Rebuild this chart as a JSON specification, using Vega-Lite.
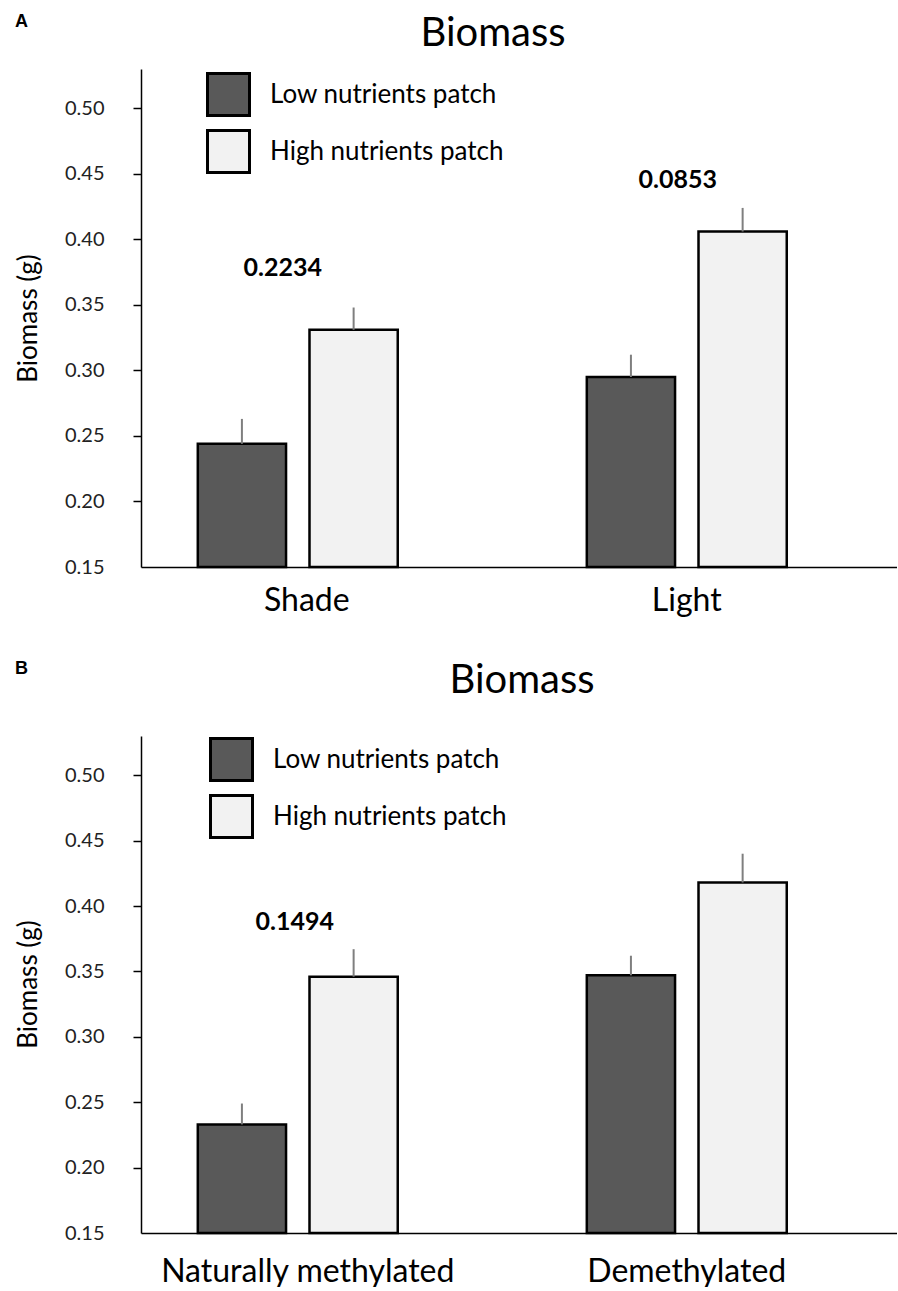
{
  "$schema": "https://vega.github.io/schema/vega-lite/v6.json",
  "background": "white",
  "padding": {"left": 15, "top": 13, "right": 0, "bottom": 0},
  "autosize": {"type": "pad"},
  "config": {"view": {"stroke": null}, "font": "Lato"},
  "spacing": 44,
  "resolve": {"scale": {"fill": "independent", "x": "independent", "y": "independent"}, "legend": {"fill": "independent"}},
  "vconcat": [
    {
      "title": {"text": "A", "anchor": "start", "frame": "bounds", "offset": -17, "font": "Liberation Sans", "fontWeight": "bold", "fontSize": 18, "color": "black"},
      "vconcat": [
        {
          "width": 756,
          "height": 498,
          "title": {"text": "Biomass", "font": "Lato", "fontSize": 40, "fontWeight": "normal", "color": "black", "dx": -26, "offset": 15},
          "data": {"values": [
            {"group": "Shade", "patch": "Low nutrients patch", "biomass": 0.244, "upper": 0.263},
            {"group": "Shade", "patch": "High nutrients patch", "biomass": 0.331, "upper": 0.348},
            {"group": "Light", "patch": "Low nutrients patch", "biomass": 0.295, "upper": 0.312},
            {"group": "Light", "patch": "High nutrients patch", "biomass": 0.406, "upper": 0.424}
          ]},
          "layer": [
            {
              "mark": {"type": "bar", "stroke": "black", "strokeWidth": 2.5},
              "encoding": {
                "x": {"field": "group", "type": "nominal", "title": null,
                  "scale": {"domain": ["Shade", "Light"], "paddingInner": 0.486, "paddingOuter": 0.2147, "align": 0.34},
                  "axis": {"domainColor": "black", "domainWidth": 1.5, "ticks": false, "labelFontSize": 32, "labelFont": "Lato", "labelColor": "black", "labelPadding": 18, "labelAngle": 0, "labelLimit": 0,
                    "labelOffset": {"condition": {"test": "datum.value === 'Shade'", "value": 9}, "value": 0}}},
                "xOffset": {"field": "patch", "type": "nominal", "scale": {"domain": ["Low nutrients patch", "High nutrients patch"], "paddingInner": 0.21, "paddingOuter": 0}},
                "y": {"field": "biomass", "type": "quantitative", "title": "Biomass (g)",
                  "scale": {"domain": [0.15, 0.53], "zero": false, "nice": false},
                  "axis": {"values": [0.15, 0.2, 0.25, 0.3, 0.35, 0.4, 0.45, 0.5], "format": ".2f", "grid": false,
                    "domainColor": "black", "domainWidth": 1.5,
                    "tickColor": {"condition": {"test": "datum.value < 0.16", "value": "transparent"}, "value": "black"},
                    "tickSize": 8, "tickWidth": 1.5,
                    "labelFontSize": 20, "labelFont": "Lato", "labelColor": "#222222", "labelPadding": 29,
                    "titleFont": "Lato", "titleFontSize": 26, "titleFontWeight": "normal", "titleColor": "black",
                    "titleAngle": -90, "titleX": -113, "titleY": 249, "titleBaseline": "middle", "titleAlign": "center"}},
                "y2": {"datum": 0.15},
                "fill": {"field": "patch", "type": "nominal",
                  "scale": {"domain": ["Low nutrients patch", "High nutrients patch"], "range": ["#595959", "#f2f2f2"]},
                  "legend": {"title": null, "orient": "none", "legendX": 65, "legendY": 3, "padding": 0,
                    "symbolType": "square", "symbolSize": 1764, "symbolStrokeColor": "black", "symbolStrokeWidth": 3,
                    "labelFont": "Lato", "labelFontSize": 26, "labelColor": "black", "labelOffset": 19, "labelLimit": 0, "rowPadding": 2}}
              }
            },
            {
              "mark": {"type": "rule", "color": "#7f7f7f", "strokeWidth": 2},
              "encoding": {
                "x": {"field": "group", "type": "nominal"},
                "xOffset": {"field": "patch", "type": "nominal"},
                "y": {"field": "biomass", "type": "quantitative"},
                "y2": {"field": "upper"}
              }
            },
            {
              "data": {"values": [
                {"group": "Shade", "label": "0.2234", "ypos": 0.378}
              ]},
              "mark": {"type": "text", "font": "Lato", "fontWeight": "bold", "fontSize": 25, "color": "black", "dx": -15, "baseline": "middle"},
              "encoding": {
                "x": {"field": "group", "type": "nominal"},
                "y": {"field": "ypos", "type": "quantitative"},
                "text": {"field": "label"}
              }
            },
            {
              "data": {"values": [
                {"group": "Light", "label": "0.0853", "ypos": 0.445}
              ]},
              "mark": {"type": "text", "font": "Lato", "fontWeight": "bold", "fontSize": 25, "color": "black", "dx": -9, "baseline": "middle"},
              "encoding": {
                "x": {"field": "group", "type": "nominal"},
                "y": {"field": "ypos", "type": "quantitative"},
                "text": {"field": "label"}
              }
            }
          ]
        }
      ]
    },
    {
      "title": {"text": "B", "anchor": "start", "frame": "bounds", "offset": -17, "font": "Liberation Sans", "fontWeight": "bold", "fontSize": 18, "color": "black"},
      "vconcat": [
        {
          "width": 756,
          "height": 497,
          "title": {"text": "Biomass", "font": "Lato", "fontSize": 40, "fontWeight": "normal", "color": "black", "dx": 3, "offset": 35},
          "data": {"values": [
            {"group": "Naturally methylated", "patch": "Low nutrients patch", "biomass": 0.233, "upper": 0.249},
            {"group": "Naturally methylated", "patch": "High nutrients patch", "biomass": 0.346, "upper": 0.367},
            {"group": "Demethylated", "patch": "Low nutrients patch", "biomass": 0.347, "upper": 0.362},
            {"group": "Demethylated", "patch": "High nutrients patch", "biomass": 0.418, "upper": 0.44}
          ]},
          "layer": [
            {
              "mark": {"type": "bar", "stroke": "black", "strokeWidth": 2.5},
              "encoding": {
                "x": {"field": "group", "type": "nominal", "title": null,
                  "scale": {"domain": ["Naturally methylated", "Demethylated"], "paddingInner": 0.486, "paddingOuter": 0.2147, "align": 0.34},
                  "axis": {"domainColor": "black", "domainWidth": 1.5, "ticks": false, "labelFontSize": 32, "labelFont": "Lato", "labelColor": "black", "labelPadding": 23, "labelAngle": 0, "labelLimit": 0,
                    "labelOffset": {"condition": {"test": "datum.value === 'Naturally methylated'", "value": 10}, "value": 0}}},
                "xOffset": {"field": "patch", "type": "nominal", "scale": {"domain": ["Low nutrients patch", "High nutrients patch"], "paddingInner": 0.21, "paddingOuter": 0}},
                "y": {"field": "biomass", "type": "quantitative", "title": "Biomass (g)",
                  "scale": {"domain": [0.15, 0.53], "zero": false, "nice": false},
                  "axis": {"values": [0.15, 0.2, 0.25, 0.3, 0.35, 0.4, 0.45, 0.5], "format": ".2f", "grid": false,
                    "domainColor": "black", "domainWidth": 1.5,
                    "tickColor": {"condition": {"test": "datum.value < 0.16", "value": "transparent"}, "value": "black"},
                    "tickSize": 8, "tickWidth": 1.5,
                    "labelFontSize": 20, "labelFont": "Lato", "labelColor": "#222222", "labelPadding": 29,
                    "titleFont": "Lato", "titleFontSize": 26, "titleFontWeight": "normal", "titleColor": "black",
                    "titleAngle": -90, "titleX": -113, "titleY": 248, "titleBaseline": "middle", "titleAlign": "center"}},
                "y2": {"datum": 0.15},
                "fill": {"field": "patch", "type": "nominal",
                  "scale": {"domain": ["Low nutrients patch", "High nutrients patch"], "range": ["#595959", "#f2f2f2"]},
                  "legend": {"title": null, "orient": "none", "legendX": 68, "legendY": 1, "padding": 0,
                    "symbolType": "square", "symbolSize": 1764, "symbolStrokeColor": "black", "symbolStrokeWidth": 3,
                    "labelFont": "Lato", "labelFontSize": 26, "labelColor": "black", "labelOffset": 19, "labelLimit": 0, "rowPadding": 2}}
              }
            },
            {
              "mark": {"type": "rule", "color": "#7f7f7f", "strokeWidth": 2},
              "encoding": {
                "x": {"field": "group", "type": "nominal"},
                "xOffset": {"field": "patch", "type": "nominal"},
                "y": {"field": "biomass", "type": "quantitative"},
                "y2": {"field": "upper"}
              }
            },
            {
              "data": {"values": [
                {"group": "Naturally methylated", "label": "0.1494", "ypos": 0.388}
              ]},
              "mark": {"type": "text", "font": "Lato", "fontWeight": "bold", "fontSize": 25, "color": "black", "dx": -3, "baseline": "middle"},
              "encoding": {
                "x": {"field": "group", "type": "nominal"},
                "y": {"field": "ypos", "type": "quantitative"},
                "text": {"field": "label"}
              }
            }
          ]
        }
      ]
    }
  ]
}
